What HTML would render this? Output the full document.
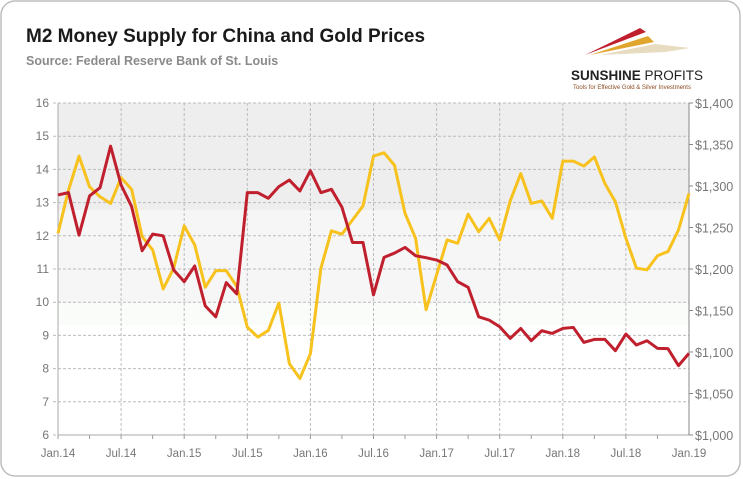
<!DOCTYPE html>
<html><head><meta charset="utf-8"><style>
body{margin:0;background:#fff;font-family:"Liberation Sans",sans-serif}
#wrap{position:relative;width:743px;height:479px;overflow:hidden}
</style></head><body>
<div id="wrap">
<svg id="c" width="743" height="479">
<rect x="1" y="1" width="739" height="475" rx="14" fill="#fff" stroke="#bdbdbd" stroke-width="1.5"/>
<text x="26" y="42" font-size="19" font-weight="bold" fill="#1a1a1a">M2 Money Supply for China and Gold Prices</text>
<text x="26" y="65" font-size="12.5" font-weight="bold" fill="#8a8a8a">Source: Federal Reserve Bank of St. Louis</text>
<g>
<polygon points="585,55 640,28 646,32" fill="#c0202e"/>
<polygon points="590,55 648,36 654,42" fill="#e0a52c"/>
<polygon points="600,55 655,44 690,48 665,52" fill="#e8dcc0"/>
<text x="571" y="80" font-size="13.5" font-weight="bold" fill="#222">SUNSHINE <tspan font-weight="normal">PROFITS</tspan></text>
<text x="573" y="89" font-size="6" fill="#8b4a20">Tools for Effective Gold &amp; Silver Investments</text>
</g>
<g id="plot"></g>
</svg>
</div>
<script>
const xLabels=["Jan.14","Jul.14","Jan.15","Jul.15","Jan.16","Jul.16","Jan.17","Jul.17","Jan.18","Jul.18","Jan.19"];
const leftTicks=[6,7,8,9,10,11,12,13,14,15,16];
const rightTicks=[1000,1050,1100,1150,1200,1250,1300,1350,1400];
const m2=[13.23,13.3,12.02,13.2,13.45,14.7,13.53,12.88,11.55,12.05,12.0,10.97,10.62,11.09,9.89,9.56,10.59,10.25,13.3,13.3,13.13,13.48,13.68,13.35,13.96,13.3,13.4,12.86,11.8,11.8,10.22,11.35,11.48,11.65,11.4,11.34,11.27,11.12,10.62,10.45,9.56,9.46,9.26,8.91,9.21,8.84,9.14,9.06,9.21,9.24,8.79,8.88,8.88,8.54,9.04,8.71,8.84,8.61,8.6,8.09,8.46];
const gold=[1243,1295,1336,1299,1287,1279,1310,1296,1239,1223,1176,1201,1252,1229,1178,1198,1198,1179,1130,1118,1126,1159,1086,1068,1098,1201,1246,1242,1259,1276,1336,1340,1325,1267,1237,1151,1193,1235,1231,1266,1245,1261,1235,1282,1315,1279,1282,1261,1330,1330,1324,1335,1303,1281,1237,1201,1199,1216,1221,1247,1291];
const X0=58,X1=689,Y0=435,Y1=103,N=60;
const xs=i=>X0+(X1-X0)*i/N;
const yl=v=>Y0-(v-6)/10*(Y0-Y1);
const yr=v=>Y0-(v-1000)/400*(Y0-Y1);
const NS="http://www.w3.org/2000/svg";
const g=document.getElementById('plot');
function mk(t,a,p){const e=document.createElementNS(NS,t);for(const k in a)e.setAttribute(k,a[k]);(p||g).appendChild(e);return e;}
// bands
mk('rect',{x:X0,y:Y1,width:X1-X0,height:107,fill:'#eeeeee'});
mk('rect',{x:X0,y:210,width:X1-X0,height:93,fill:'#f6f6f6'});
mk('rect',{x:X0,y:303,width:X1-X0,height:22,fill:'#f9fcf8'});
// grid
leftTicks.forEach(v=>{
  const l=mk('line',{x1:X0-5,x2:X1,y1:yl(v),y2:yl(v),stroke:'#bcbcbc','stroke-dasharray':'3,2'});
  
  
  const t=mk('text',{x:X0-9,y:yl(v)+4,'text-anchor':'end','font-size':12,fill:'#777'});
  t.textContent=v;
  
  
});
xLabels.forEach((s,k)=>{
  const x=xs(k*6);
  const l=mk('line',{x1:x,x2:x,y1:Y1,y2:Y0,stroke:'#bcbcbc','stroke-dasharray':'3,2'});
  
  
  const t=mk('text',{x:x,y:457,'text-anchor':'middle','font-size':11.5,fill:'#777'});
  t.textContent=s;
  
  
});
for(let k=0;k<20;k++){mk('line',{x1:xs(k*3),x2:xs(k*3),y1:Y0,y2:Y0+4,stroke:'#999'});}
mk('line',{x1:X0,x2:X0,y1:Y1,y2:Y0,stroke:'#aaa'});
mk('line',{x1:X0,x2:X1,y1:Y0,y2:Y0,stroke:'#aaa'});
mk('line',{x1:X1,x2:X1,y1:Y1,y2:Y0,stroke:'#888'});
rightTicks.forEach(v=>{
  mk('line',{x1:X1,x2:X1+4,y1:yr(v),y2:yr(v),stroke:'#888'});
  const t=mk('text',{x:X1+6,y:yr(v)+5,'font-size':12.5,fill:'#777'});
  t.textContent='$'+String(v).replace(/(\d)(\d{3})$/,'$1,$2');
  
  
});
const pg=mk('polyline',{points:gold.map((v,i)=>xs(i)+','+yr(v)).join(' '),fill:'none',stroke:'#f7c21d','stroke-width':3,'stroke-linejoin':'round'});


const pm=mk('polyline',{points:m2.map((v,i)=>xs(i)+','+yl(v)).join(' '),fill:'none',stroke:'#c0202e','stroke-width':3,'stroke-linejoin':'round'});


</script>
</body></html>
